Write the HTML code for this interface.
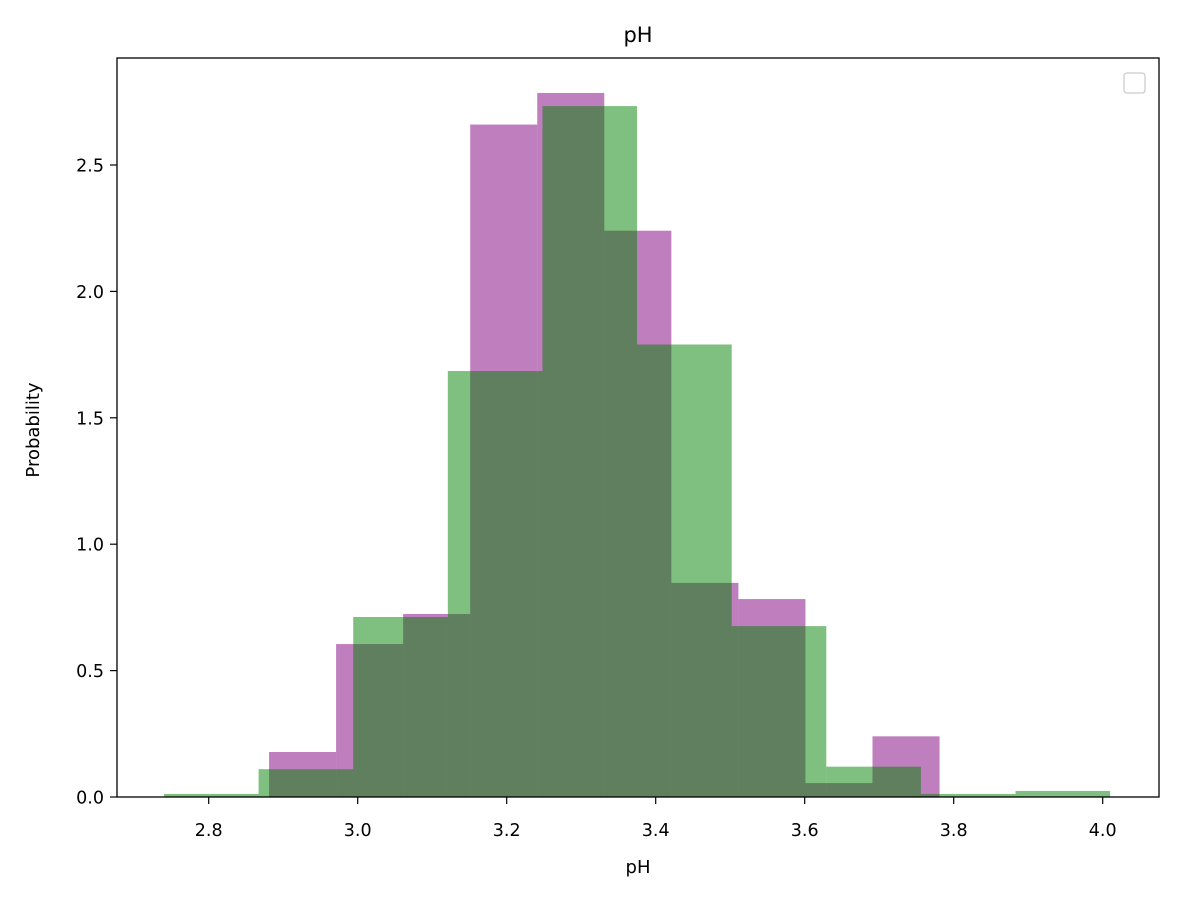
<!DOCTYPE html>
<html><head><meta charset="utf-8"><style>
body{margin:0;background:#fff}
svg text{font-family:"DejaVu Sans","Liberation Sans",sans-serif;fill:#000}
</style></head><body>
<svg width="1177" height="898" xmlns="http://www.w3.org/2000/svg">
<rect width="1177" height="898" fill="#fff"/>
<g id="bars"></g>
<rect x="117" y="58" width="1042" height="739" fill="none" stroke="#000" stroke-width="1.3"/>
<g id="xt"></g>
<g id="yt"></g>
<text x="638" y="42" font-size="21" text-anchor="middle">pH</text>
<text x="638" y="873" font-size="18" text-anchor="middle">pH</text>
<text x="39" y="430" font-size="18" text-anchor="middle" transform="rotate(-90 39 430)">Probability</text>
<rect x="1124" y="73" width="21" height="20" rx="3" fill="#fff" stroke="#ccc" stroke-width="1.3"/>
</svg>
<script>
const purpleEdgeStart = 2.881, purpleEdgeEnd = 3.781;
const purpleValues = [0.178,0.605,0.724,2.66,2.785,2.24,0.847,0.783,0.055,0.24];
const greenEdgeStart = 2.74, greenEdgeEnd = 4.01;
const greenValues = [0.012,0.11,0.712,1.685,2.733,1.79,0.676,0.12,0.012,0.024];
const xTicks = [2.8,3.0,3.2,3.4,3.6,3.8,4.0];
const xTickLabels = ["2.8","3.0","3.2","3.4","3.6","3.8","4.0"];
const yTicks = [0,0.5,1.0,1.5,2.0,2.5];
const yTickLabels = ["0.0","0.5","1.0","1.5","2.0","2.5"];
const NS="http://www.w3.org/2000/svg";
const X=v=>208.7+(v-2.8)*745;
const Y=v=>797-v*252.8;
const bars=document.getElementById('bars');
function drawHist(vals,a,b,color,name){
  const w=(b-a)/vals.length;
  vals.forEach((v,i)=>{
    const r=document.createElementNS(NS,'rect');
    const x0=X(a+i*w),x1=X(a+(i+1)*w);
    r.setAttribute('x',x0);r.setAttribute('width',x1-x0);
    r.setAttribute('y',Y(v));r.setAttribute('height',797-Y(v));
    r.setAttribute('fill',color);r.setAttribute('fill-opacity','0.5');
    
    
    bars.appendChild(r);
  });
}
drawHist(purpleValues,purpleEdgeStart,purpleEdgeEnd,'#800080','purple');
drawHist(greenValues,greenEdgeStart,greenEdgeEnd,'#008000','green');
const xt=document.getElementById('xt');
xTicks.forEach((v,i)=>{
  const l=document.createElementNS(NS,'line');
  l.setAttribute('x1',X(v));l.setAttribute('x2',X(v));l.setAttribute('y1',797);l.setAttribute('y2',804);
  l.setAttribute('stroke','#000');l.setAttribute('stroke-width','1.2');
  
  
  xt.appendChild(l);
  const t=document.createElementNS(NS,'text');
  t.setAttribute('x',X(v));t.setAttribute('y',836);t.setAttribute('font-size','17.5');t.setAttribute('text-anchor','middle');
  t.textContent=xTickLabels[i];
  
  
  xt.appendChild(t);
});
const yt=document.getElementById('yt');
yTicks.forEach((v,i)=>{
  const l=document.createElementNS(NS,'line');
  l.setAttribute('x1',110);l.setAttribute('x2',117);l.setAttribute('y1',Y(v));l.setAttribute('y2',Y(v));
  l.setAttribute('stroke','#000');l.setAttribute('stroke-width','1.2');
  
  
  yt.appendChild(l);
  const t=document.createElementNS(NS,'text');
  t.setAttribute('x',104);t.setAttribute('y',Y(v)+6.5);t.setAttribute('font-size','17.5');t.setAttribute('text-anchor','end');
  t.textContent=yTickLabels[i];
  
  
  yt.appendChild(t);
});
</script>
</body></html>
